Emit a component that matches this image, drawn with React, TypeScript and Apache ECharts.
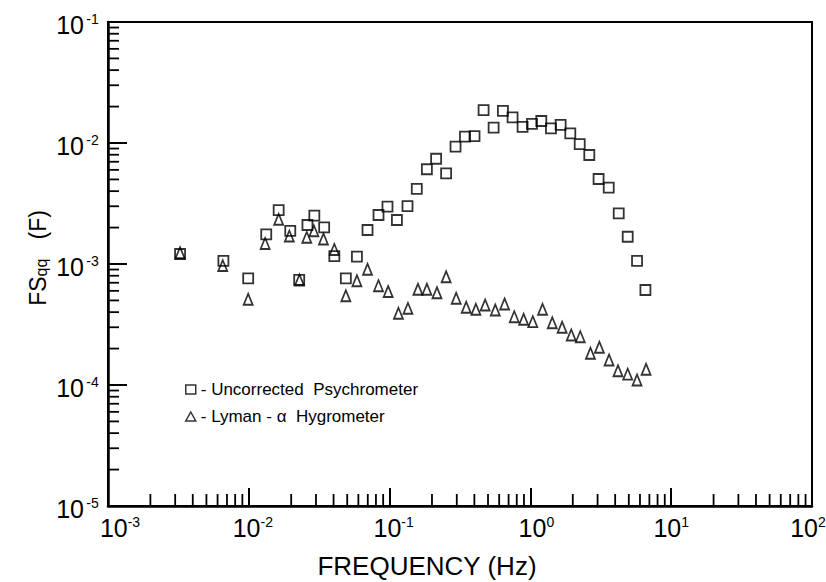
import React, { useEffect, useRef } from 'react';
import * as echarts from 'echarts';

// Uncorrected psychrometer (squares)
const psyFreq = [0.00325, 0.0066, 0.0099, 0.0133, 0.0163, 0.0197, 0.0228, 0.0261, 0.0292, 0.0343, 0.0405, 0.0489, 0.0586, 0.0697, 0.0834, 0.0966, 0.1127, 0.134, 0.156, 0.184, 0.214, 0.252, 0.294, 0.343, 0.401, 0.465, 0.548, 0.638, 0.747, 0.88, 1.026, 1.195, 1.4, 1.64, 1.92, 2.24, 2.62, 3.05, 3.6, 4.24, 4.91, 5.72, 6.56];
const psyValue = [1.21e-3, 1.06e-3, 7.6e-4, 1.76e-3, 2.79e-3, 1.88e-3, 7.38e-4, 2.1e-3, 2.51e-3, 2.01e-3, 1.16e-3, 7.6e-4, 1.15e-3, 1.91e-3, 2.54e-3, 2.98e-3, 2.31e-3, 3.01e-3, 4.17e-3, 6.07e-3, 7.41e-3, 5.62e-3, 9.32e-3, 1.13e-2, 1.14e-2, 1.87e-2, 1.34e-2, 1.84e-2, 1.63e-2, 1.36e-2, 1.44e-2, 1.52e-2, 1.32e-2, 1.41e-2, 1.2e-2, 9.8e-3, 7.96e-3, 5.04e-3, 4.27e-3, 2.62e-3, 1.68e-3, 1.06e-3, 6.1e-4];

// Lyman-alpha hygrometer (triangles)
const lyFreq = [0.00325, 0.00653, 0.0099, 0.01306, 0.0163, 0.0194, 0.0229, 0.0258, 0.029, 0.0339, 0.0405, 0.0489, 0.0586, 0.0697, 0.0834, 0.0977, 0.1156, 0.135, 0.159, 0.184, 0.217, 0.252, 0.297, 0.35, 0.41, 0.477, 0.563, 0.656, 0.768, 0.895, 1.04, 1.22, 1.43, 1.68, 1.95, 2.26, 2.67, 3.09, 3.62, 4.19, 4.91, 5.72, 6.63];
const lyValue = [1.24e-3, 9.7e-4, 5.11e-4, 1.48e-3, 2.34e-3, 1.7e-3, 7.38e-4, 1.66e-3, 1.88e-3, 1.61e-3, 1.32e-3, 5.47e-4, 7.28e-4, 9.04e-4, 6.62e-4, 5.93e-4, 3.91e-4, 4.3e-4, 6.18e-4, 6.18e-4, 5.79e-4, 7.85e-4, 5.21e-4, 4.39e-4, 4.22e-4, 4.58e-4, 4.17e-4, 4.67e-4, 3.67e-4, 3.49e-4, 3.34e-4, 4.22e-4, 3.27e-4, 3.0e-4, 2.59e-4, 2.51e-4, 1.83e-4, 2.05e-4, 1.61e-4, 1.31e-4, 1.23e-4, 1.1e-4, 1.35e-4];

const seriesNames = ['Uncorrected  Psychrometer', 'Lyman - α  Hygrometer'];
const xDecades = [1e-3, 1e-2, 1e-1, 1, 10];
const yDecades = [1e-5, 1e-4, 1e-3, 1e-2];
const minorSteps = [2, 3, 4, 5, 6, 7, 8, 9];
const xTitle = 'FREQUENCY (Hz)';

const FONT = '"Liberation Sans", Arial, sans-serif';

export default function App() {
  const ref = useRef<HTMLDivElement>(null);
  useEffect(() => {
    if (!ref.current) return;
    const chart = echarts.init(ref.current, undefined, { renderer: 'svg' });

    const xMinor: number[][] = [];
    xDecades.forEach((d) => minorSteps.forEach((m) => xMinor.push([d * m, 1e-5])));
    const yMinor: number[][] = [];
    yDecades.forEach((d) => minorSteps.forEach((m) => yMinor.push([1e-3, d * m])));

    const expOf = (v: number) => Math.round(Math.log10(v));
    const xPad: Record<string, string> = { '-3': 'pl24', '-2': 'pl8', '-1': 'pl8', '0': 'pl12', '2': 'pr8' };

    const markerStyle = { color: 'rgba(255,255,255,0)', borderColor: '#000', borderWidth: 1.8 };

    chart.setOption({
      animation: false,
      backgroundColor: '#fff',
      grid: {
        left: 108, right: 14, top: 22, bottom: 76,
        show: true, borderColor: '#000', borderWidth: 2,
        containLabel: false, outerBoundsMode: 'none',
      },
      legend: {
        data: seriesNames,
        orient: 'vertical',
        left: 180,
        top: 376,
        itemWidth: 10,
        itemHeight: 9,
        itemGap: 10,
        selectedMode: false,
        formatter: (n: string) => '- ' + n,
        itemStyle: { color: 'rgba(255,255,255,0)', borderColor: '#000', borderWidth: 1.5 },
        textStyle: { fontSize: 17, fontFamily: FONT, color: '#000', lineHeight: 17 },
      },
      xAxis: {
        type: 'log',
        logBase: 10,
        min: 1e-3,
        max: 1e2,
        splitNumber: 5,
        axisLine: { show: true, lineStyle: { color: '#000', width: 2.5 } },
        axisTick: { show: true, inside: true, length: 18, lineStyle: { color: '#000', width: 2 } },
        splitLine: { show: false },
        axisLabel: {
          margin: 9,
          formatter: (v: number) => {
            const e = String(expOf(v));
            const p = xPad[e];
            const pre = p && p.startsWith('pl') ? `{${p}| }` : '';
            const post = p && p.startsWith('pr') ? `{${p}| }` : '';
            return `${pre}{b|10}{s|${e}}${post}`;
          },
          rich: {
            b: { fontSize: 25, fontFamily: FONT, color: '#000', lineHeight: 26 },
            s: { fontSize: 14, fontFamily: FONT, color: '#000', lineHeight: 14, verticalAlign: 'top' },
            pl24: { width: 24, fontSize: 10 },
            pl8: { width: 8, fontSize: 10 },
            pl12: { width: 12, fontSize: 10 },
            pr8: { width: 8, fontSize: 10 },
          },
        },
      },
      yAxis: {
        type: 'log',
        logBase: 10,
        min: 1e-5,
        max: 1e-1,
        splitNumber: 4,
        axisLine: { show: true, lineStyle: { color: '#000', width: 2.5 } },
        axisTick: { show: true, inside: true, length: 19, lineStyle: { color: '#000', width: 2 } },
        splitLine: { show: false },
        axisLabel: {
          margin: 7,
          padding: [6, 0, 0, 0],
          formatter: (v: number) => `{b|10}{s|${expOf(v)}}`,
          rich: {
            b: { fontSize: 25, fontFamily: FONT, color: '#000', lineHeight: 26 },
            s: { fontSize: 14, fontFamily: FONT, color: '#000', lineHeight: 14, verticalAlign: 'top', width: 17, align: 'left' },
          },
        },
      },
      series: [
        {
          name: seriesNames[0],
          type: 'scatter',
          symbol: 'rect',
          symbolSize: 10,
          itemStyle: markerStyle,
          data: psyFreq.map((f, i) => [f, psyValue[i]]),
          z: 3,
        },
        {
          name: seriesNames[1],
          type: 'scatter',
          symbol: 'triangle',
          symbolSize: [9, 11],
          itemStyle: markerStyle,
          data: lyFreq.map((f, i) => [f, lyValue[i]]),
          z: 4,
        },
        {
          name: 'xMinorTicks',
          type: 'custom',
          silent: true,
          clip: false,
          z: 5,
          data: xMinor,
          renderItem: (_p: any, api: any) => {
            const pt = api.coord([api.value(0), api.value(1)]);
            return {
              type: 'line',
              shape: { x1: pt[0], y1: pt[1], x2: pt[0], y2: pt[1] - 12 },
              style: { stroke: '#000', lineWidth: 1.8 },
            };
          },
        },
        {
          name: 'yMinorTicks',
          type: 'custom',
          silent: true,
          clip: false,
          z: 5,
          data: yMinor,
          renderItem: (_p: any, api: any) => {
            const pt = api.coord([api.value(0), api.value(1)]);
            return {
              type: 'line',
              shape: { x1: pt[0], y1: pt[1], x2: pt[0] + 11, y2: pt[1] },
              style: { stroke: '#000', lineWidth: 1.8 },
            };
          },
        },
      ],
      graphic: [
        {
          type: 'text',
          x: 38,
          y: 258,
          rotation: Math.PI / 2,
          style: {
            text: 'FS{sub|qq}   (F)',
            align: 'center',
            verticalAlign: 'middle',
            fontSize: 23,
            fontFamily: FONT,
            fill: '#000',
            rich: {
              sub: { fontSize: 16, fontFamily: FONT, fill: '#000', lineHeight: 14, verticalAlign: 'bottom' },
            },
          },
        },
        {
          type: 'text',
          x: 427,
          y: 566,
          style: {
            text: xTitle,
            align: 'center',
            verticalAlign: 'middle',
            fontSize: 26,
            fontFamily: FONT,
            fill: '#000',
          },
        },
      ],
    });

    return () => chart.dispose();
  }, []);

  return (
    <div
      ref={ref}
      style={{ position: 'fixed', left: 0, top: 0, width: 826, height: 582, background: '#fff' }}
    />
  );
}
